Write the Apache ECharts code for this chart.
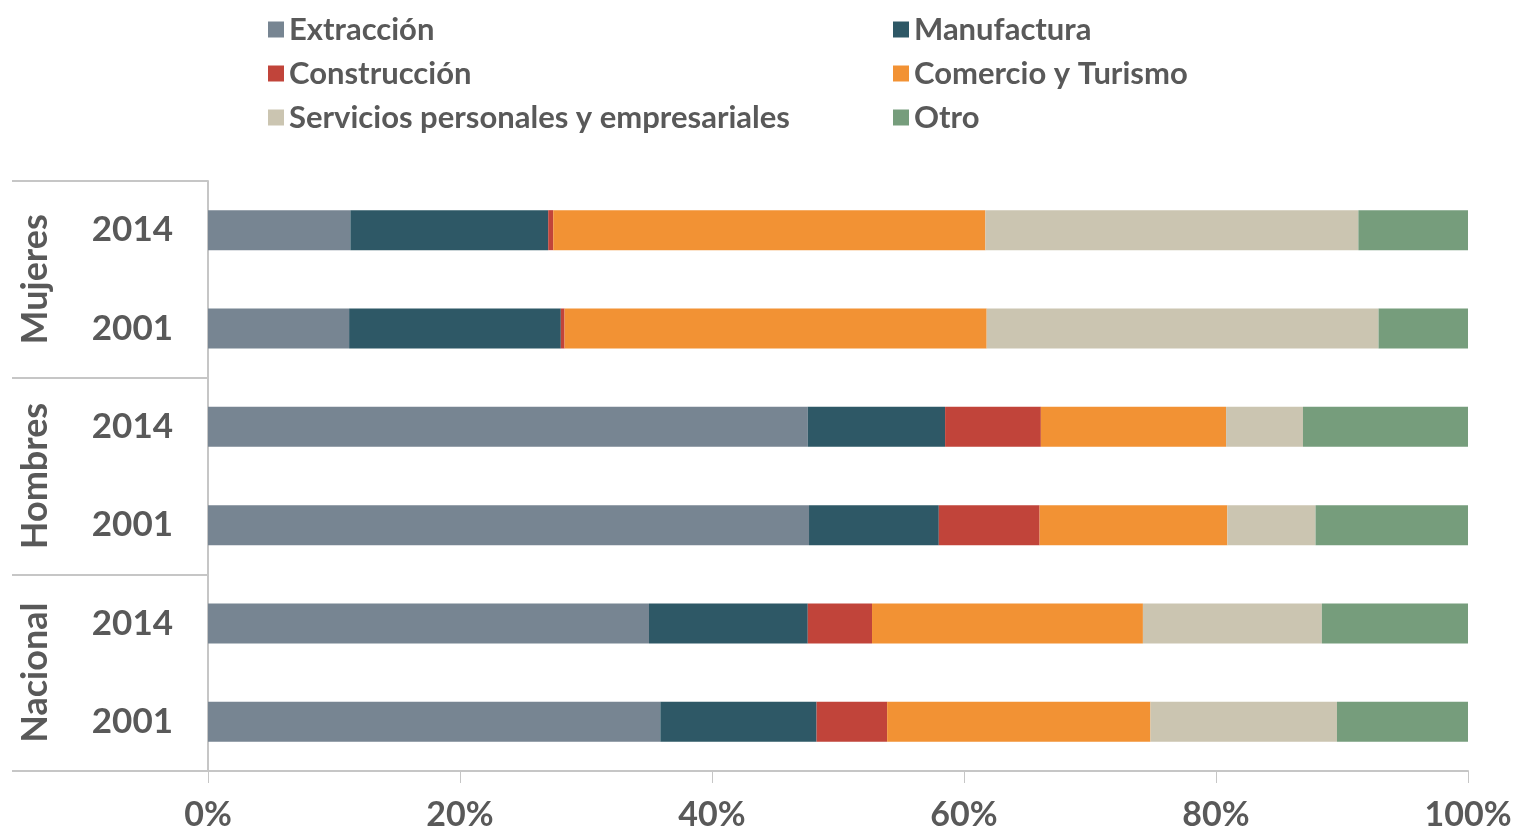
<!DOCTYPE html>
<html>
<head>
<meta charset="utf-8">
<script src="https://cdn.jsdelivr.net/npm/echarts@6/dist/echarts.min.js"></script>
<style>
  html, body { margin: 0; padding: 0; background: #fff; }
  #chart { width: 1516px; height: 830px; }
</style>
</head>
<body>
<div id="chart"></div>
<script>
// categorias de abajo hacia arriba (eje y de echarts)
const years = ['2001', '2014', '2001', '2014', '2001', '2014']
const groups = ['Nacional', 'Hombres', 'Mujeres']
const xTicks = [0, 20, 40, 60, 80, 100]

// porcentajes por sector, mismo orden que years
const extraccion = [35.9, 35.0, 47.7, 47.6, 11.2, 11.3]
const manufactura = [12.4, 12.6, 10.3, 10.9, 16.8, 15.7]
const construccion = [5.6, 5.1, 8.0, 7.6, 0.3, 0.4]
const comercio = [20.9, 21.5, 14.9, 14.7, 33.5, 34.3]
const servicios = [14.8, 14.2, 7.0, 6.1, 31.1, 29.6]
const otro = [10.4, 11.6, 12.1, 13.1, 7.1, 8.7]

const names = ['Extracción', 'Manufactura', 'Construcción', 'Comercio y Turismo', 'Servicios personales y empresariales', 'Otro']
const values = [extraccion, manufactura, construccion, comercio, servicios, otro]
const colors = ['#778592', '#2e5866', '#c1443a', '#f29234', '#cbc5b1', '#769d7c']

const font = 'Lato, "Open Sans", sans-serif'
const textGray = '#595959'
const lineGray = '#c6c6c6'

const chart = echarts.init(document.getElementById('chart'))

const legendStyle = {
    orient: 'vertical',
    top: 9,
    icon: 'rect',
    itemWidth: 16,
    itemHeight: 16,
    itemGap: 13,
    textStyle: {
        fontFamily: font,
        fontWeight: 'bold',
        fontSize: 31,
        lineHeight: 31,
        color: textGray
    }
}

const option = {
    animation: false,
    color: colors,
    legend: [
        Object.assign({ left: 263, data: [names[0], names[2], names[4]] }, legendStyle),
        Object.assign({ left: 888, data: [names[1], names[3], names[5]] }, legendStyle)
    ],
    grid: {
        left: 208,
        right: 48,
        top: 181,
        bottom: 59,
        outerBoundsMode: 'none'
    },
    xAxis: {
        type: 'value',
        min: xTicks[0],
        max: xTicks[xTicks.length - 1],
        interval: 20,
        splitLine: { show: false },
        axisLine: { show: true, lineStyle: { color: lineGray, width: 2 } },
        axisTick: { show: true, length: 12, lineStyle: { color: lineGray, width: 1 } },
        axisLabel: {
            margin: 27,
            fontFamily: font,
            fontWeight: 'bold',
            fontSize: 34,
            color: textGray,
            formatter: '{value}%'
        }
    },
    yAxis: [
        {
            type: 'category',
            data: years,
            axisLine: { show: true, lineStyle: { color: lineGray, width: 2 } },
            axisTick: { show: false },
            axisLabel: {
                margin: 35,
                fontFamily: font,
                fontWeight: 'bold',
                fontSize: 35,
                color: textGray
            }
        },
        {
            // segundo nivel: grupos con separadores
            type: 'category',
            data: groups,
            position: 'left',
            axisLine: { show: false },
            axisTick: { show: true, length: 196, lineStyle: { color: lineGray, width: 2 } },
            axisLabel: {
                rotate: 90,
                margin: 155,
                fontFamily: font,
                fontWeight: 'bold',
                fontSize: 36,
                color: textGray
            }
        }
    ],
    series: names.map((n, i) => ({
        name: n,
        type: 'bar',
        stack: 'total',
        barWidth: 40,
        yAxisIndex: 0,
        data: values[i]
    }))
}

option && chart.setOption(option)
</script>
</body>
</html>
